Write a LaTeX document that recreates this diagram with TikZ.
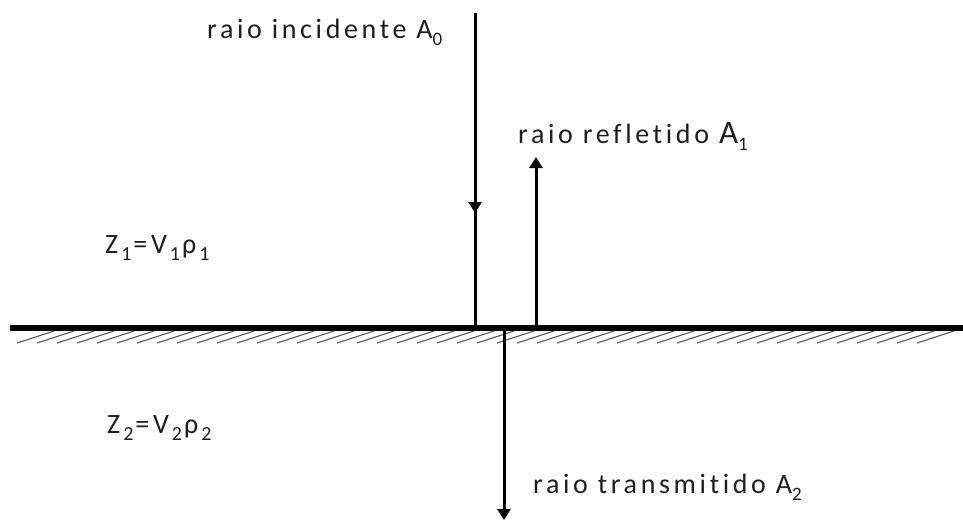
\documentclass[tikz,border=0pt]{standalone}
\usepackage{fontspec}
\setmainfont{Carlito}[LetterSpace=13,Ligatures={NoCommon}]
\usetikzlibrary{arrows.meta,decorations.markings}
\newcommand\sbs[1]{\raisebox{-0.28em}{\fontsize{19}{20}\selectfont #1}}
\newcommand\zsb[1]{\kern3pt\raisebox{-0.28em}{\fontsize{20}{20}\selectfont #1}\kern2pt}
\tikzset{
  ray/.style={line width=3pt},
  lbl/.style={font=\fontsize{28}{32}\selectfont, text=black!88, inner sep=0pt, anchor=base west},
  hatch/.style={line width=1.1pt, black!65},
  midarrow/.style={decoration={markings, mark=at position #1 with {\arrow{Triangle[length=11pt,width=13pt]}}}, postaction={decorate}}
}
\begin{document}
\begin{tikzpicture}[x=1pt,y=-1pt]
\useasboundingbox (0,0) rectangle (963,520);
% ground
\coordinate (gl) at (10,328);
\coordinate (gr) at (963,328);
\foreach \x in {17,37,...,923}{
  \draw[hatch] (\x,343) -- ++(37,-12);
}
\draw[line width=6pt] (gl) -- (gr);
% points
\coordinate (inTop) at (475,13);
\coordinate (inBot) at (475,328);
\coordinate (reBot) at (536,328);
\coordinate (reTop) at (536,157);
\coordinate (trTop) at (504,330);
\coordinate (trBot) at (504,520);
\draw[ray, midarrow=0.635] (inTop) -- (inBot);
\draw[ray, -{Triangle[length=11pt,width=13pt]}] (reBot) -- (reTop);
\draw[ray, -{Triangle[length=11pt,width=13pt]}] (trTop) -- (trBot);
% labels
\node[lbl] (tin) at (207,38) {raio incidente A\sbs{0}};
\node[lbl] (tre) at (518,143) {raio refletido {\fontsize{33}{36}\selectfont A}\sbs{1}};
\node[lbl] (ttr) at (533,493) {raio transmitido A\sbs{2}};
\node[lbl] (z1) at (105,253) {Z\zsb{1}=V\zsb{1}ρ\zsb{1}};
\node[lbl] (z2) at (107,433) {Z\zsb{2}=V\zsb{2}ρ\zsb{2}};
\end{tikzpicture}
\end{document}
